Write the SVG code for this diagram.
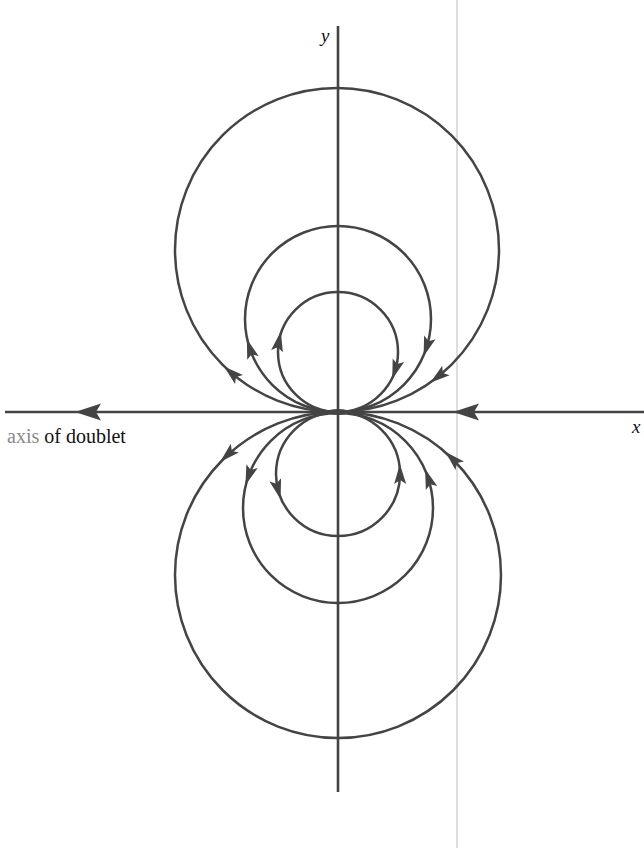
<svg xmlns="http://www.w3.org/2000/svg" width="644" height="848" viewBox="0 0 644 848">
<style>
.ln{fill:none;stroke:#444;stroke-width:2.5}
.ax{fill:none;stroke:#444;stroke-width:2.6}
.ah{fill:#444;stroke:none}
.lbl{font-family:"Liberation Serif",serif;fill:#111}
</style>
<defs>
<path id="a" d="M9,0 L-11,-6 L-7,0 L-11,6 Z"/>
<path id="A" d="M13,0 L-13,-8.5 L-8,0 L-13,8.5 Z"/>
</defs>
<rect width="644" height="848" fill="#fff"/>
<line x1="457" y1="0" x2="457" y2="848" stroke="#bdbdbd" stroke-width="1"/>
<g id="axes">
<line class="ax" x1="338" y1="26" x2="338" y2="792"/>
<line class="ax" x1="5" y1="412" x2="644" y2="412"/>
<use href="#A" class="ah" transform="translate(88,412) rotate(180)"/>
<use href="#A" class="ah" transform="translate(466,412) rotate(180)"/>
</g>
<g id="connectors">
<circle class="ln" cx="337" cy="250" r="162"/>
<circle class="ln" cx="338" cy="319" r="93"/>
<circle class="ln" cx="338" cy="352" r="60"/>
<circle class="ln" cx="338" cy="575" r="163"/>
<circle class="ln" cx="338" cy="508" r="95"/>
<circle class="ln" cx="338" cy="474" r="62"/>
<ellipse cx="338" cy="412" rx="12" ry="3" fill="#444"/>
<use href="#a" class="ah" transform="translate(230.7,372.3) rotate(-139)"/>
<use href="#a" class="ah" transform="translate(437.3,377.3) rotate(141.8)"/>
<use href="#a" class="ah" transform="translate(249.6,347.5) rotate(-107.8)"/>
<use href="#a" class="ah" transform="translate(426.4,347.8) rotate(108.1)"/>
<use href="#a" class="ah" transform="translate(279.1,340.4) rotate(-78.9)"/>
<use href="#a" class="ah" transform="translate(395,370.7) rotate(108.1)"/>
<use href="#a" class="ah" transform="translate(226.8,455.7) rotate(137)"/>
<use href="#a" class="ah" transform="translate(451.8,458.1) rotate(-135.8)"/>
<use href="#a" class="ah" transform="translate(248.4,476.5) rotate(109.4)"/>
<use href="#a" class="ah" transform="translate(428,477.6) rotate(-108.7)"/>
<use href="#a" class="ah" transform="translate(278.2,490.5) rotate(74.6)"/>
<use href="#a" class="ah" transform="translate(400,473) rotate(-91)"/>
</g>
<g id="labels">
<text class="lbl" x="321" y="42" font-size="19" font-style="italic">y</text>
<text class="lbl" x="632" y="433" font-size="19" font-style="italic">x</text>
<text class="lbl" x="7" y="443" font-size="20"><tspan fill="#8a8a8a">axis</tspan> of doublet</text>
</g>
</svg>
